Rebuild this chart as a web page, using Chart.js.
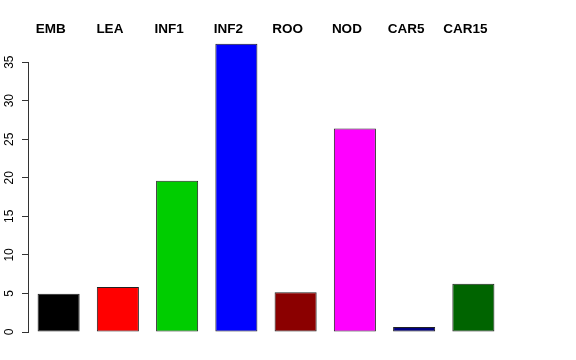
<!DOCTYPE html>
<html>
<head>
<meta charset="utf-8">
<script src="https://cdn.jsdelivr.net/npm/chart.js@4"></script>
<style>
html,body{margin:0;padding:0;background:#fff;}
#wrap{width:576px;height:360px;position:relative;}
</style>
</head>
<body>
<div id="wrap"><canvas id="c" width="576" height="360"></canvas></div>
<script>
const categories = ["EMB", "LEA", "INF1", "INF2", "ROO", "NOD", "CAR5", "CAR15"];
const values = [4.95, 5.85, 19.6, 37.4, 5.15, 26.4, 0.65, 6.25];
const yTicks = [0, 5, 10, 15, 20, 25, 30, 35];
const barColors = ["#000000", "#FF0000", "#00CD00", "#0000FF", "#8B0000", "#FF00FF", "#000080", "#006400"];

const topLabels = {
  id: 'topLabels',
  afterDraw(chart) {
    const ctx = chart.ctx;
    const xs = chart.scales.x;
    ctx.save();
    ctx.font = 'bold 13.5px "Liberation Sans", Arial, sans-serif';
    ctx.fillStyle = '#000';
    ctx.textAlign = 'center';
    ctx.textBaseline = 'middle';
    categories.forEach((c, i) => {
      ctx.fillText(c, xs.getPixelForValue(i) - 8, 29.5);
    });
    ctx.restore();
  }
};
const axisLine = {
  id: 'axisLine',
  afterDraw(chart) {
    const ys = chart.scales.y;
    const ctx = chart.ctx;
    const x = Math.round(chart.chartArea.left) - 0.5;
    ctx.save();
    ctx.strokeStyle = '#333';
    ctx.lineWidth = 1;
    ctx.beginPath();
    ctx.moveTo(x, ys.getPixelForValue(yTicks[0]));
    ctx.lineTo(x, ys.getPixelForValue(yTicks[yTicks.length - 1]));
    ctx.stroke();
    ctx.restore();
  }
};

new Chart(document.getElementById('c'), {
  type: 'bar',
  data: {
    labels: categories,
    datasets: [{
      data: values,
      backgroundColor: barColors,
      borderColor: '#222',
      borderWidth: 1,
      borderSkipped: false,
      categoryPercentage: 1.0,
      barPercentage: 0.71
    }]
  },
  options: {
    responsive: false,
    animation: false,
    devicePixelRatio: 1,
    layout: { padding: { top: 39, bottom: 28, right: 73, left: 0 } },
    plugins: { legend: { display: false }, tooltip: { enabled: false } },
    scales: {
      x: {
        display: false,
        offset: true,
        grid: { display: false }
      },
      y: {
        min: 0,
        max: 38,
        afterBuildTicks(scale) {
          scale.ticks = yTicks.map(v => ({ value: v }));
        },
        afterFit(scale) { scale.width = 29; },
        border: { display: false },
        grid: {
          drawOnChartArea: false,
          drawTicks: true,
          tickLength: 7,
          color: '#333',
          lineWidth: 1
        },
        ticks: {
          minRotation: 90,
          maxRotation: 90,
          crossAlign: 'center',
          padding: 6,
          color: '#000',
          font: { family: '"Liberation Sans", Arial, sans-serif', size: 12 }
        }
      }
    }
  },
  plugins: [topLabels, axisLine]
});
</script>
</body>
</html>
